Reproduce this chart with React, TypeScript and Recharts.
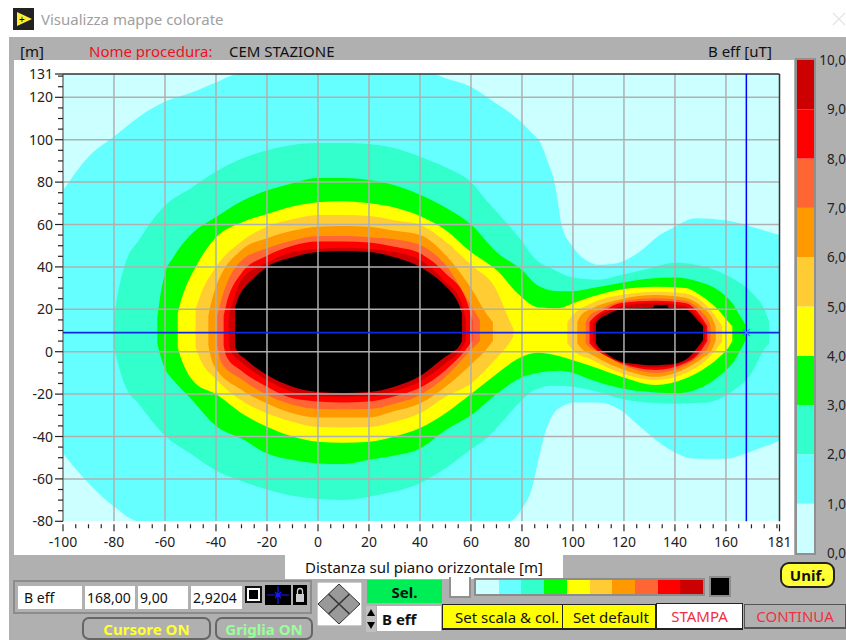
import React from "react";
import { ComposedChart, Area, XAxis, YAxis, ReferenceLine, ReferenceDot, BarChart, Bar } from "recharts";

const FONT = '"Noto Sans", sans-serif';

// Contour bands: [x, lower, upper] in metres
const bandCyan = [[-100,-48,76],[-90,-62,92],[-80,-73,101.5],[-70,-80,111],[-60,-80,118],[-50,-80,122],[-40,-80,127],[-31,-80,131],[45,-80,131],[50,-80,129],[60,-80,125],[70,-80,117],[75,-80,113],[80,-74,108],[84,-64,103],[87,-48,99],[90,-35,90],[92.5,-29,81],[94,-27,71.5],[95.5,-26,60],[100,-24,49.4],[107,-24,42],[110,-24,41],[118,-27,42],[126,-35,47],[134,-43,55],[140,-47.5,59],[148,-50.5,63],[160,-50.5,62],[170,-47,59],[181,-42,55]];
const bandAqua = [[-80,2,16],[-79,-3,24],[-76,-15,40],[-70,-25,53],[-60,-39.6,69],[-50,-48,77],[-40,-56,85],[-30,-61,91],[-20,-65,95],[-10,-68,97.5],[0,-69.5,98.4],[10,-70,98.5],[20,-68.4,98],[30,-66,96],[40,-62,92],[50,-55,87],[60,-46,80],[66,-41,71.5],[73,-32,62],[79,-24,53.6],[85,-18,44],[92,-16,39],[100,-16.5,35],[110,-19,34],[118,-22,36],[129,-24,39],[140,-24.5,42],[152,-24,40],[162,-19,35],[170,-10,28],[175,1,20],[177,4,14]];
const bandGreen = [[-63,4,16],[-62,-1,25],[-60,-8,37],[-57,-13,44],[-50,-22,55],[-40,-35,63.5],[-30,-41,71],[-20,-48,76],[-10,-51,79.5],[0,-52.7,82],[10,-53,82],[20,-51,81],[30,-49,78.5],[40,-45.6,74],[50,-37,68],[60,-30,60],[70,-20,47],[80,-12,38.5],[86,-10,31.4],[94.5,-9,28.5],[100,-10,28.5],[107.6,-13.4,30],[119,-17.3,32.5],[128.5,-18.8,34.3],[140,-19.6,35],[149.4,-17.3,33],[157,-11.8,29],[162.5,-5.5,22.8],[165.7,0.8,16.5],[167.5,5,13]];
const bandYellow = [[-55,2,18],[-54,-2,23],[-52,-8,30],[-48,-15,40],[-40,-20,54],[-30,-29,61],[-20,-35.4,65],[-10,-40,68.5],[0,-42.5,70.5],[10,-43,71],[20,-42.5,70],[30,-40,68],[40,-36,64],[50,-29,57.4],[60,-20,47],[70,-10.5,38.5],[79,-3,26.7],[86,-0.5,21],[94.5,-2,20.5],[100,-4,22.8],[107.6,-7,26],[119,-11.8,29.4],[132.4,-15.7,30.7],[144,-12.6,30],[150.7,-8.6,26],[157,-3,19.7],[161,2,14],[162.5,5,12]];
const bandGoldMain = [[-48,2,20],[-46,-4,27],[-40,-13,40],[-30,-23,52],[-20,-29,59],[-10,-33,62.5],[0,-35.5,64.5],[10,-35.7,64.5],[20,-35.5,64],[30,-33,62],[40,-29,59.8],[50,-21.2,52],[60,-15,41],[70,-3,29],[75,4,15],[76.6,7,11]];
const bandGoldRight = [[97.8,4,14],[100,0.8,17.3],[107.6,-3.9,23],[119,-10.2,26.7],[132.4,-13.4,28.3],[144,-10.2,27.5],[150.7,-5.5,23.6],[156,0.8,16.5],[158.5,5,12]];
const bandOrangeMain = [[-43,3,17],[-41,-6,27],[-30,-18,48],[-20,-24.4,53.5],[-10,-29,57],[0,-31,59],[10,-31,59.3],[20,-31,59],[30,-28,57],[40,-24.4,55],[50,-16.5,45.6],[60,-6,30],[66,1,18],[68.6,5,14]];
const bandOrangeRight = [[101.7,4,14],[103,2,17],[107.6,-1.5,20.5],[119,-8,24.8],[132.4,-11.8,26.7],[144,-8,25.5],[150.7,-3,21],[154.5,1,16],[156,5,12]];
const bandTomatoMain = [[-39.5,3,17],[-38,-5,24],[-30,-13,43],[-20,-20.4,48.8],[-10,-25,52.5],[0,-27,54.6],[10,-27.2,54.6],[20,-27,54],[30,-24.5,53],[40,-20.4,50.3],[50,-11.8,41],[60,0.8,22],[63.5,5,15]];
const bandTomatoRight = [[105,4,14],[106.5,2,17],[110,0,19.5],[119,-6,23.8],[132.4,-10,25.2],[144,-6.5,24],[150.7,-1,18.5],[153,2,15],[154,5,12]];
const bandRedMain = [[-37,3,17],[-36,-2,22],[-30,-9,37],[-20,-16.5,45.3],[-10,-22,50],[0,-23.5,52],[10,-24,52],[20,-23.5,51.5],[30,-21,49.5],[40,-17,46.4],[50,-8.7,37],[58,1,25],[60.5,5,15]];
const bandRedRight = [[106.5,4,14],[108,2,16],[113,-2,20],[119,-5.5,23],[132.4,-8.6,24],[144,-5.5,23],[150,0,17],[152.7,5,12]];
const bandDarkMain = [[-35,3,17],[-34,0,21],[-30,-5,34],[-20,-13.4,42],[-10,-19,47],[0,-21,48.5],[10,-21.2,49],[20,-21,48.5],[30,-18.5,47],[40,-14,43.3],[50,-5.5,33],[56,1,24],[58,5,15]];
const bandDarkRight = [[107.8,5,13],[109,2,15.5],[113,-1.5,18.8],[119,-5.2,21.5],[132.4,-7.5,23],[144,-4.8,21.5],[150,1.5,15],[151.8,5,12]];
const bandBlackMain = [[-32.5,2,21],[-31,-1,26],[-29,-3,30],[-25,-7,35],[-20,-11,40],[-10,-16.5,44.5],[0,-19,47],[10,-19.5,47.5],[20,-19,47],[30,-16.5,44.5],[40,-11.5,40],[50,-2.4,31],[53,0,27],[55,2,23],[56.5,5,18]];
const bandBlackRight = [[109,4,13.4],[110.5,1.5,15.5],[113,-0.8,17.3],[119,-4.7,20],[125,-5.8,20.5],[131.5,-6.4,20.7],[132,-6.4,22],[137,-6,22],[137.5,-6,20.6],[144,-3.9,20],[149.5,3,14],[151,5.5,12]];

const CYAN = "#66ffff", AQUA = "#33ffcc", GREEN = "#00ff00", YELLOW = "#ffff00", GOLD = "#ffcc33",
  ORANGE = "#ff9900", TOMATO = "#ff6633", RED = "#ff0000", DARK = "#cc0000", PALE = "#ccffff", BLACK = "#000000";

const bands: [number[][], string][] = [
  [bandCyan, CYAN], [bandAqua, AQUA], [bandGreen, GREEN], [bandYellow, YELLOW],
  [bandGoldMain, GOLD], [bandGoldRight, GOLD], [bandOrangeMain, ORANGE], [bandOrangeRight, ORANGE],
  [bandTomatoMain, TOMATO], [bandTomatoRight, TOMATO], [bandRedMain, RED], [bandRedRight, RED],
  [bandDarkMain, DARK], [bandDarkRight, DARK], [bandBlackMain, BLACK], [bandBlackRight, BLACK],
];

const xMajor = [-100,-80,-60,-40,-20,0,20,40,60,80,100,120,140,160,181];
const xTicks = [-100,-95,-90,-85,-80,-75,-70,-65,-60,-55,-50,-45,-40,-35,-30,-25,-20,-15,-10,-5,0,5,10,15,20,25,30,35,40,45,50,55,60,65,70,75,80,85,90,95,100,105,110,115,120,125,130,135,140,145,150,155,160,165,170,175,180,181];
const yMajor = [-80,-60,-40,-20,0,20,40,60,80,100,120,131];
const yTicks = [-80,-75,-70,-65,-60,-55,-50,-45,-40,-35,-30,-25,-20,-15,-10,-5,0,5,10,15,20,25,30,35,40,45,50,55,60,65,70,75,80,85,90,95,100,105,110,115,120,125,130,131];
const xGrid = [-80,-60,-40,-20,0,20,40,60,80,100,120,140,160];
const yGrid = [-60,-40,-20,0,20,40,60,80,100,120];
const background = [{ x: -100, r: [-80, 131] }, { x: 181, r: [-80, 131] }];
const cursor = { x: 168, y: 9 };

const scaleKeys = ["s0","s1","s2","s3","s4","s5","s6","s7","s8","s9"];
const scaleColors = [PALE, CYAN, AQUA, GREEN, YELLOW, GOLD, ORANGE, TOMATO, RED, DARK];
const scaleRow = [{ n: "", s0:1, s1:1, s2:1, s3:1, s4:1, s5:1, s6:1, s7:1, s8:1, s9:1 }];
const scaleTicks = [0,1,2,3,4,5,6,7,8,9,10];

const readouts = ["B eff", "168,00", "9,00", "2,9204"];

const toRows = (b: number[][]) => b.map(([x, lo, hi]) => ({ x, r: [lo, hi] }));

const XTick = (p: any) => {
  const v = p.payload.value;
  const major = xMajor.includes(v);
  return (
    <g>
      <line x1={p.x} x2={p.x} y1={p.y + 3} y2={p.y + (major ? 10 : 7)} stroke="#222" strokeWidth={1.2} />
      {major && <text x={p.x} y={p.y + 25.5} textAnchor="middle" fontSize={14} fontFamily={FONT} fill="#222">{v}</text>}
    </g>
  );
};
const YTick = (p: any) => {
  const v = p.payload.value;
  const major = yMajor.includes(v);
  return (
    <g>
      <line x1={p.x - (major ? 8 : 5)} x2={p.x} y1={p.y} y2={p.y} stroke="#222" strokeWidth={1.2} />
      {major && <text x={p.x - 10} y={p.y + 5} textAnchor="end" fontSize={14} fontFamily={FONT} fill="#222">{v}</text>}
    </g>
  );
};
const ScaleTick = (p: any) => {
  const v = p.payload.value;
  return <text x={66} y={p.y + 5} textAnchor="end" fontSize={13.5} fontFamily={FONT} fill="#222">{v},0</text>;
};
const CursorMark = (p: any) => (
  <path d={`M${p.cx - 3.5} ${p.cy - 3.5} L${p.cx + 3.5} ${p.cy + 3.5} M${p.cx + 3.5} ${p.cy - 3.5} L${p.cx - 3.5} ${p.cy + 3.5}`} stroke="#2090ff" strokeWidth={1.4} fill="none" />
);

const Box = ({ l, t, w, h, bg, children, style }: any) => (
  <div style={{ position: "absolute", left: l, top: t, width: w, height: h, background: bg, boxSizing: "border-box", fontFamily: FONT, fontSize: 15, color: "#111", whiteSpace: "nowrap", overflow: "hidden", display: "flex", alignItems: "center", ...style }}>{children}</div>
);

const PillButton = ({ l, w, color, text }: any) => (
  <Box l={l} t={617} w={w} h={23} bg="#b0b0b0" style={{ border: "2px solid #666", borderRadius: 7, justifyContent: "center", color, fontWeight: 700, fontSize: 15 }}>{text}</Box>
);

export default function App() {
  return (
    <div style={{ position: "fixed", left: 0, top: 0, width: 846, height: 640, background: "#fff", overflow: "hidden" }}>
      {/* title bar */}
      <svg style={{ position: "absolute", left: 13, top: 8 }} width={21} height={22}>
        <rect width={21} height={22} fill="#222" />
        <polygon points="4,4 4,18 19,11" fill="#ffee33" />
        <text x={6} y={15} fontSize={10} fontFamily={FONT} fill="#000">+</text>
      </svg>
      <Box l={41} t={8} w={300} h={22} style={{ color: "#a0a0a0", fontSize: 15 }}>Visualizza mappe colorate</Box>
      <svg style={{ position: "absolute", left: 832, top: 12 }} width={14} height={14}>
        <path d="M1 1 L13 13 M13 1 L1 13" stroke="#e4e4e4" strokeWidth={1.2} />
      </svg>

      {/* panel */}
      <div style={{ position: "absolute", left: 9, top: 37, width: 837, height: 603, background: "#b0b0b0" }} />
      <div style={{ position: "absolute", left: 14, top: 60, width: 780, height: 495, background: "#fff" }} />
      <Box l={285} t={555} w={278} h={24} bg="#fff" style={{ paddingLeft: 20 }}>Distanza sul piano orizzontale [m]</Box>
      <Box l={20} t={42} w={40} h={18}>[m]</Box>
      <Box l={89} t={42} w={140} h={18} style={{ color: "#f01020" }}>Nome procedura:</Box>
      <Box l={229} t={42} w={180} h={18}>CEM STAZIONE</Box>
      <Box l={708} t={42} w={80} h={18}>B eff [uT]</Box>

      {/* map */}
      <div style={{ position: "absolute", left: 0, top: 0 }}>
        <ComposedChart width={846} height={640} margin={{ top: 74, left: 13, right: 66.5, bottom: 90 }}>
          <XAxis type="number" dataKey="x" domain={[-100, 181]} ticks={xTicks} interval={0} allowDataOverflow height={28.7} axisLine={false} tickLine={false} tickSize={0} tickMargin={0} tick={XTick} />
          <YAxis type="number" domain={[-80, 131]} ticks={yTicks} interval={0} allowDataOverflow width={50} axisLine={false} tickLine={false} tickSize={0} tickMargin={0} tick={YTick} />
          <Area data={background} dataKey="r" type="linear" stroke="none" fill={PALE} fillOpacity={1} dot={false} activeDot={false} isAnimationActive={false} />
          {bands.map(([b, c], i) => (
            <Area key={i} data={toRows(b)} dataKey="r" type="monotoneX" stroke="none" fill={c} fillOpacity={1} dot={false} activeDot={false} isAnimationActive={false} />
          ))}
          {xGrid.map((v) => <ReferenceLine key={"gx" + v} x={v} stroke="#b0b0b0" strokeWidth={1.5} />)}
          {yGrid.map((v) => <ReferenceLine key={"gy" + v} y={v} stroke="#b0b0b0" strokeWidth={1.5} />)}
          <ReferenceLine x={-100} stroke="#777" strokeWidth={1.5} />
          <ReferenceLine y={131} stroke="#333" strokeWidth={1.5} />
          <ReferenceLine x={181} stroke="#333" strokeWidth={1.5} />
          <ReferenceLine x={cursor.x} stroke="#0000ff" strokeWidth={1.5} />
          <ReferenceLine y={cursor.y} stroke="#1028e0" strokeWidth={1.8} />
          <ReferenceDot x={cursor.x} y={cursor.y} r={3} shape={CursorMark} />
        </ComposedChart>
      </div>

      {/* colour scale */}
      <div style={{ position: "absolute", left: 795, top: 58, width: 21, height: 497, border: "2px solid #909090", boxSizing: "border-box", background: "#fff" }} />
      <div style={{ position: "absolute", left: 780, top: 40 }}>
        <BarChart width={66} height={530} data={scaleRow} barCategoryGap={0} margin={{ top: 20, left: 17, right: 0, bottom: 17 }}>
          <XAxis dataKey="n" hide />
          <YAxis orientation="right" type="number" domain={[0, 10]} ticks={scaleTicks} interval={0} width={32} axisLine={false} tickLine={false} tick={ScaleTick} />
          {scaleKeys.map((k, i) => <Bar key={k} dataKey={k} stackId="s" fill={scaleColors[i]} isAnimationActive={false} />)}
        </BarChart>
      </div>

      {/* bottom readouts */}
      <div style={{ position: "absolute", left: 13, top: 580, width: 299, height: 34, border: "2px solid #8c8c8c", boxSizing: "border-box" }} />
      <Box l={18} t={586} w={64} h={23} bg="#fff" style={{ paddingLeft: 6, fontSize: 14 }}>{readouts[0]}</Box>
      <Box l={85} t={586} w={50} h={23} bg="#fff" style={{ paddingLeft: 2, fontSize: 14 }}>{readouts[1]}</Box>
      <Box l={138} t={586} w={50} h={23} bg="#fff" style={{ paddingLeft: 2, fontSize: 14 }}>{readouts[2]}</Box>
      <Box l={191} t={586} w={51} h={23} bg="#fff" style={{ paddingLeft: 2, fontSize: 14 }}>{readouts[3]}</Box>
      <div style={{ position: "absolute", left: 245, top: 586, width: 17, height: 17, background: "#fff", border: "2px solid #111", boxSizing: "border-box" }}>
        <div style={{ margin: 2, width: 9, height: 9, background: "#000" }} />
      </div>
      <svg style={{ position: "absolute", left: 265, top: 585 }} width={26} height={20}>
        <rect width={26} height={20} fill="#000" />
        <path d="M13 1 V19 M2 10 H24 M10 7 L16 13 M16 7 L10 13" stroke="#1a1aff" strokeWidth={1.2} />
      </svg>
      <svg style={{ position: "absolute", left: 293, top: 585 }} width={14} height={20}>
        <rect width={14} height={20} fill="#000" />
        <rect x={3} y={9} width={8} height={8} fill="#ccc" />
        <path d="M4.5 9 V6 A2.5 2.5 0 0 1 9.5 6 V9" stroke="#ccc" fill="none" strokeWidth={1.3} />
      </svg>
      <PillButton l={82} w={129} color="#ffff33" text="Cursore ON" />
      <PillButton l={215} w={98} color="#99ff99" text="Griglia ON" />

      {/* arrows pad */}
      <svg style={{ position: "absolute", left: 317, top: 582 }} width={45} height={44}>
        <rect width={45} height={44} fill="#fff" stroke="#999" />
        <polygon points="22,2 43,22 22,42 1,22" fill="#999" stroke="#333" />
        <path d="M11.5 12 L32.5 32 M32.5 12 L11.5 32" stroke="#333" strokeWidth={1.5} />
      </svg>

      <Box l={367} t={580} w={75} h={23} bg="#00ee55" style={{ justifyContent: "center", fontWeight: 700 }}>Sel.</Box>
      <svg style={{ position: "absolute", left: 366, top: 606 }} width={10} height={26}>
        <rect width={10} height={26} fill="#c0c0c0" />
        <polygon points="5,3 9,10 1,10" fill="#000" />
        <polygon points="5,23 9,16 1,16" fill="#000" />
      </svg>
      <Box l={377} t={606} w={64} h={25} bg="#fff" style={{ paddingLeft: 5, fontWeight: 700 }}>B eff</Box>

      <div style={{ position: "absolute", left: 449, top: 577, width: 22, height: 21, background: "#fff", border: "2px solid #909090", borderTop: "none", boxSizing: "border-box" }} />
      <div style={{ position: "absolute", left: 474, top: 578, width: 231, height: 18, border: "2px solid #8c8c8c", boxSizing: "border-box", display: "flex" }}>
        {scaleColors.map((c) => <div key={c} style={{ flex: 1, background: c }} />)}
      </div>
      <div style={{ position: "absolute", left: 709, top: 576, width: 22, height: 21, background: "#000", border: "2px solid #8c8c8c", boxSizing: "border-box" }} />

      <Box l={442} t={604} w={121} h={26} bg="#ffff00" style={{ border: "1px solid #222", paddingLeft: 12, borderBottomWidth: 2 }}>Set scala &amp; col.</Box>
      <Box l={562} t={604} w={94} h={26} bg="#ffff00" style={{ border: "1px solid #222", paddingLeft: 10, borderBottomWidth: 2 }}>Set default</Box>
      <Box l={656} t={603} w={87} h={27} bg="#fff" style={{ border: "1px solid #222", borderBottomWidth: 2, justifyContent: "center", color: "#f03040" }}>STAMPA</Box>
      <Box l={744} t={604} w={102} h={25} bg="#b0b0b0" style={{ border: "1px solid #555", borderBottomWidth: 2, justifyContent: "center", color: "#f03040" }}>CONTINUA</Box>
      <Box l={780} t={562} w={55} h={26} bg="#ffff33" style={{ border: "2px solid #222", borderRadius: 9, justifyContent: "center", fontWeight: 700, fontSize: 15 }}>Unif.</Box>
    </div>
  );
}
